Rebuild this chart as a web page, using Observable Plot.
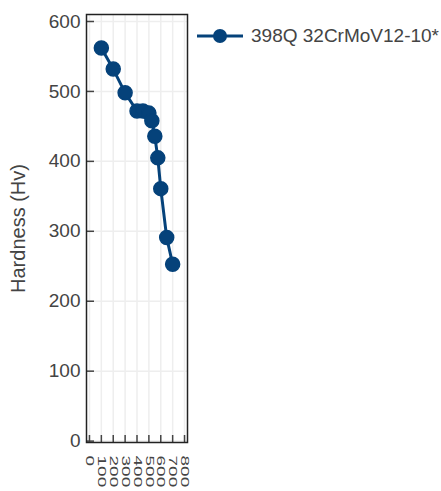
<!DOCTYPE html>
<html><head><meta charset="utf-8">
<script src="https://cdn.jsdelivr.net/npm/d3@7"></script>
<script src="https://cdn.jsdelivr.net/npm/@observablehq/plot@0.6"></script>
<style>
body{margin:0;background:#fff;font-family:"Liberation Sans",Arial,sans-serif}
#chart{position:relative;width:441px;height:491px}
#legend{position:absolute;left:197px;top:25px;display:flex;align-items:center;color:#444;font-size:19px;white-space:nowrap}
#legend svg{margin-right:8px}
</style>
</head><body><div id="chart"></div>
<script>
const seriesName = "398Q 32CrMoV12-10*";
const distances = [100, 200, 300, 400, 450, 500, 525, 550, 575, 600, 650, 700];
const hardness = [562, 532, 498, 472, 472, 469, 458, 436, 405, 361, 291, 253];
const xTicks = [0, 100, 200, 300, 400, 500, 600, 700, 800];
const yTicks = [0, 100, 200, 300, 400, 500, 600];
const yTitle = "Hardness (Hv)";
const lineColor = "#05427a";
const data = distances.map((d, i) => ({x: d, y: hardness[i]}));

const plot = Plot.plot({
  width: 441, height: 491,
  marginLeft: 86, marginRight: 254, marginTop: 14, marginBottom: 49,
  style: {fontFamily: "'Liberation Sans', Arial, sans-serif", fontSize: "19px", color: "#444", background: "transparent"},
  x: {domain: [-25, 825]},
  y: {domain: [-2, 610]},
  marks: [
    Plot.gridX(xTicks, {stroke: "#eee", strokeOpacity: 1, strokeWidth: 1.5}),
    Plot.gridY(yTicks, {stroke: "#eee", strokeOpacity: 1, strokeWidth: 1.5}),
    Plot.axisY(yTicks, {tickSize: 0, tickPadding: 6, fontSize: 19, label: null}),
    Plot.axisY(yTicks, {tickSize: 8, dx: 8, tickFormat: () => "", stroke: "#444", strokeWidth: 1.5, label: null}),
    Plot.axisX(xTicks, {tickSize: 0, tickPadding: 13, tickRotate: 90, fontSize: 19, label: null}),
    Plot.axisX(xTicks, {tickSize: 7, dy: -7, tickFormat: () => "", stroke: "#444", strokeWidth: 1.5, label: null}),
    Plot.frame({stroke: "#222", strokeWidth: 1.5}),
    Plot.text([yTitle], {frameAnchor: "left", textAnchor: "middle", rotate: -90, dx: -68, fontSize: 20, fill: "#444"}),
    Plot.line(data, {x: "x", y: "y", stroke: lineColor, strokeWidth: 3}),
    Plot.dot(data, {x: "x", y: "y", r: 7, fill: lineColor, stroke: lineColor})
  ]
});
// compress rotated x tick labels horizontally, as in the reference
d3.select(plot).selectAll('g[aria-label="x-axis tick label"] text').each(function() {
  const t = this.getAttribute("transform") || "";
  this.setAttribute("transform", t + " scale(1,0.55)");
});
const chart = document.getElementById("chart");
chart.appendChild(plot);
const legend = document.createElement("div");
legend.id = "legend";
legend.innerHTML = `<svg width="46" height="20"><line x1="0" x2="46" y1="10" y2="10" stroke="${lineColor}" stroke-width="3"/><circle cx="23" cy="10" r="7" fill="${lineColor}"/></svg><span></span>`;
legend.querySelector("span").textContent = seriesName;
chart.appendChild(legend);
</script>
</body></html>
